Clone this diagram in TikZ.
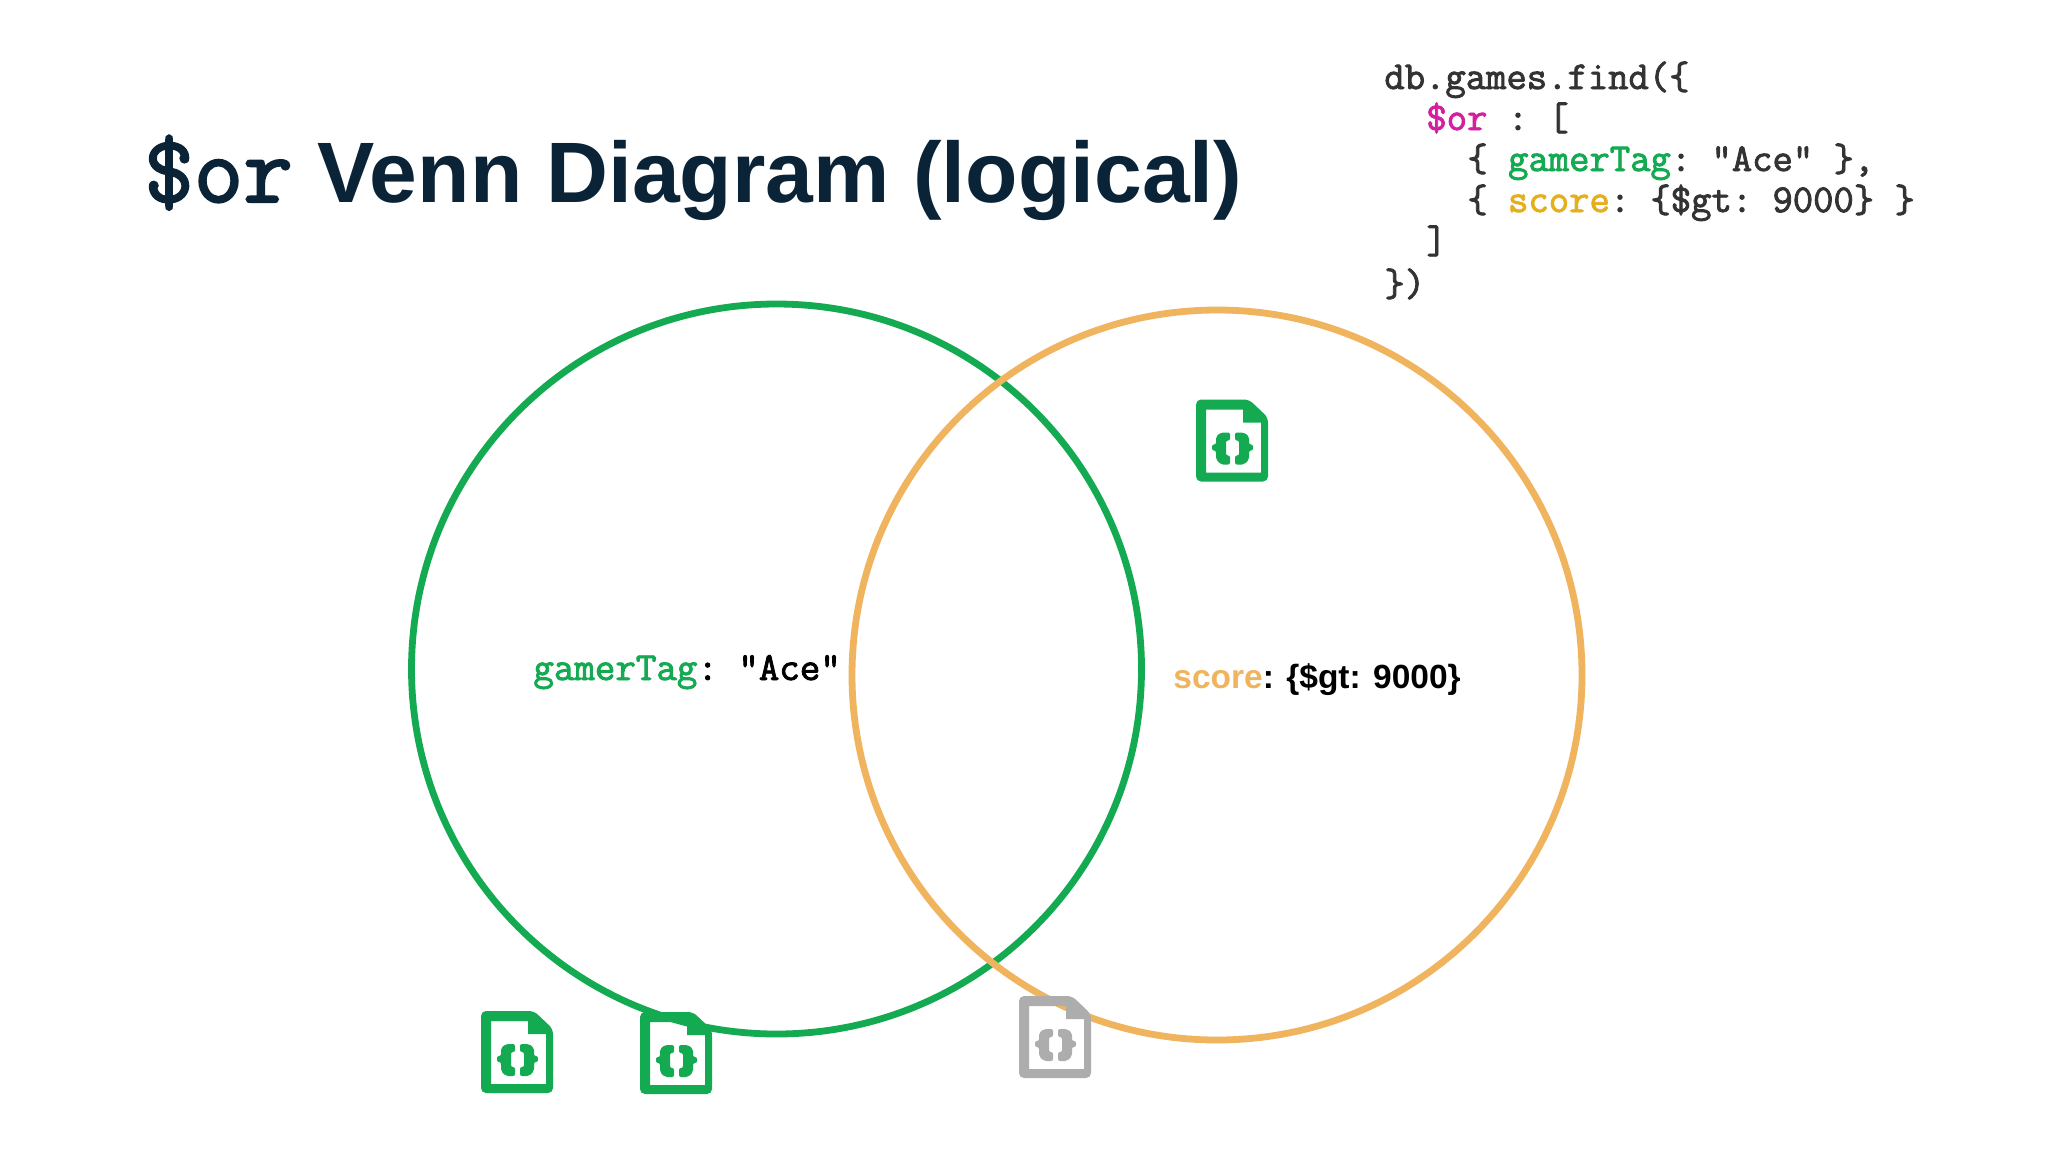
\documentclass[tikz,border=0pt]{standalone}
\usepackage{fontspec}
\setmainfont{Liberation Sans}
\setmonofont{Latin Modern Mono}[BoldFont={Latin Modern Mono},BoldFeatures={FakeBold=2.2}]
\definecolor{navy}{HTML}{0B2337}
\definecolor{mgreen}{HTML}{13AA52}
\definecolor{morange}{HTML}{F0B45E}
\definecolor{mgold}{HTML}{E5AE1C}
\definecolor{mpink}{HTML}{D3209F}
\definecolor{mgrey}{HTML}{ADADAD}
\definecolor{codetxt}{HTML}{333333}
\tikzset{
  venn/.style={line width=3.4pt,draw=#1},
  codeline/.style={anchor=base west,inner sep=0,text=codetxt,font=\ttfamily\bfseries\fontsize{19.75}{22}\selectfont},
  sideline/.style={anchor=base west,inner sep=0,text=black},
  docicon/.pic={
    \fill[#1,even odd rule,rounded corners=2.5pt]
      (0,0) -- (53,0) -- (72,18) -- (72,82) -- (0,82) -- cycle
      [sharp corners] (10,10) -- (47,10) -- (47,23) -- (65,23) -- (65,73) -- (10,73) -- cycle;
    \fill[#1,rounded corners=1pt]
      (34,33) -- (25,33) -- (20,37) -- (20,45) -- (16,45) -- (16,51) -- (20,51) -- (20,60) -- (25,65) -- (34,65)
      -- (34,56) -- (30,56) -- (30,41) -- (34,41) -- cycle;
    \fill[#1,rounded corners=1pt]
      (39,33) -- (48,33) -- (53,37) -- (53,45) -- (57,45) -- (57,51) -- (53,51) -- (53,60) -- (48,65) -- (39,65)
      -- (39,56) -- (43,56) -- (43,41) -- (39,41) -- cycle;
  }
}
\begin{document}
\begin{tikzpicture}[x=0.5pt,y=-0.5pt]
\useasboundingbox (0,0) rectangle (2048,1152);
\fill[white] (0,0) rectangle (2048,1152);
% circles
\draw[venn=mgreen] (776.5,669) circle[radius=365];
\draw[venn=morange] (1217,675) circle[radius=365];
% title
\node[anchor=base west,inner sep=0,text=navy,font=\ttfamily\bfseries\fontsize{48}{50}\selectfont] (titleor) at (144,202) {\$or};
\node[anchor=base west,inner sep=0,text=navy,font=\bfseries\fontsize{42.9}{50}\selectfont] (title) at (317,202) {Venn Diagram (logical)};
% code
\node[codeline] (c1) at (1384,89) {db.games.find(\{};
\node[codeline] (c2) at (1426,130) {\textcolor{mpink}{\$or} : [};
\node[codeline] (c3) at (1467,171) {\{ \textcolor{mgreen}{gamerTag}: "Ace" \},};
\node[codeline] (c4) at (1467,212) {\{ \textcolor{mgold}{score}: \{\$gt: 9000\} \}};
\node[codeline] (c5) at (1426,253) {]};
\node[codeline] (c6) at (1384,296) {\})};
% set labels
\node[sideline,font=\ttfamily\bfseries\fontsize{19.9}{22}\selectfont] (lg) at (533,680) {\textcolor{mgreen}{gamerTag}: "Ace"};
\node[sideline,font=\bfseries\fontsize{16.75}{22}\selectfont] (ls) at (1173,688) {\textcolor{morange}{score}: \{\$gt: 9000\}};
% icons
\pic at (1196,399.5) {docicon=mgreen};
\pic at (481,1011) {docicon=mgreen};
\pic at (640,1012) {docicon=mgreen};
\pic at (1019,996) {docicon=mgrey};
\end{tikzpicture}
\end{document}
